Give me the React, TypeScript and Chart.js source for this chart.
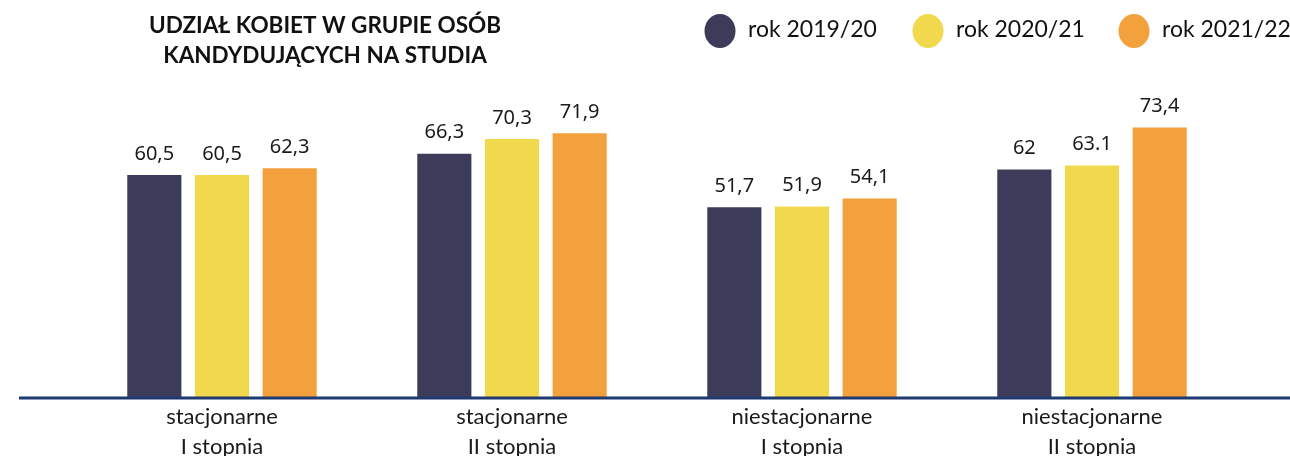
import React, { useEffect, useRef } from "react";
import { Chart, registerables } from "chart.js";

Chart.register(...registerables);

const categories: string[][] = [
  ["stacjonarne", "I stopnia"],
  ["stacjonarne", "II stopnia"],
  ["niestacjonarne", "I stopnia"],
  ["niestacjonarne", "II stopnia"],
];
const seriesNames = ["rok 2019/20", "rok 2020/21", "rok 2021/22"];
const values2019 = [60.5, 66.3, 51.7, 62];
const values2020 = [60.5, 70.3, 51.9, 63.1];
const values2021 = [62.3, 71.9, 54.1, 73.4];
const labels2019 = ["60,5", "66,3", "51,7", "62"];
const labels2020 = ["60,5", "70,3", "51,9", "63.1"];
const labels2021 = ["62,3", "71,9", "54,1", "73,4"];
const colors = ["#3c3c5a", "#f2d84c", "#f3a13d"];
const titleLines = ["UDZIAŁ KOBIET W GRUPIE OSÓB", "KANDYDUJĄCYCH NA STUDIA"];

const valueLabels = [labels2019, labels2020, labels2021];

const overlayPlugin = {
  id: "overlay",
  afterDatasetsDraw(chart: any) {
    const ctx = chart.ctx;
    ctx.save();
    // axis line
    const y0 = chart.scales.y.getPixelForValue(0);
    ctx.strokeStyle = "#1f3a70";
    ctx.lineWidth = 3;
    ctx.beginPath();
    ctx.moveTo(19, y0 + 1);
    ctx.lineTo(1290, y0 + 1);
    ctx.stroke();
    // value labels
    ctx.fillStyle = "#1a1a1a";
    ctx.font = '20px "Noto Sans"';
    ctx.textAlign = "center";
    ctx.textBaseline = "bottom";
    chart.data.datasets.forEach((ds: any, di: number) => {
      const meta = chart.getDatasetMeta(di);
      meta.data.forEach((el: any, i: number) => {
        ctx.fillText(valueLabels[di][i], el.x, el.y - 11);
      });
    });
    // title
    ctx.fillStyle = "#111111";
    ctx.font = 'bold 22.5px Lato';
    ctx.textBaseline = "middle";
    ctx.fillText(titleLines[0], 325, 26);
    ctx.fillText(titleLines[1], 325, 56);
    // legend
    const legendX = [720, 928, 1134];
    ctx.font = '23px Lato';
    ctx.textAlign = "left";
    chart.data.datasets.forEach((ds: any, di: number) => {
      const cx = legendX[di];
      ctx.fillStyle = ds.backgroundColor;
      ctx.beginPath();
      ctx.ellipse(cx, 31, 15.5, 17, 0, 0, Math.PI * 2);
      ctx.fill();
      ctx.fillStyle = "#111111";
      ctx.fillText(ds.label, cx + 28, 30);
    });
    ctx.restore();
  },
};

export default function App() {
  const ref = useRef<HTMLCanvasElement>(null);
  useEffect(() => {
    document.body.style.margin = "0";
    const chart = new Chart(ref.current!, {
      type: "bar",
      data: {
        labels: categories,
        datasets: [
          { label: seriesNames[0], data: values2019, backgroundColor: colors[0] },
          { label: seriesNames[1], data: values2020, backgroundColor: colors[1] },
          { label: seriesNames[2], data: values2021, backgroundColor: colors[2] },
        ],
      },
      options: {
        animation: false,
        responsive: false,
        maintainAspectRatio: false,
        layout: { padding: { left: 77, right: 53, top: 30, bottom: 0 } },
        datasets: { bar: { categoryPercentage: 0.7, barPercentage: 0.8 } },
        plugins: { legend: { display: false }, title: { display: false }, tooltip: { enabled: false } },
        scales: {
          x: {
            grid: { display: false },
            border: { display: false },
            ticks: {
              color: "#1a1a1a",
              font: { family: "Lato", size: 22, lineHeight: "30px" },
              padding: -3,
              maxRotation: 0,
              autoSkip: false,
            },
            afterFit: (s: any) => {
              s.height = 59;
            },
          },
          y: { display: false, min: 0, max: 100 },
        },
      },
      plugins: [overlayPlugin],
    });
    return () => chart.destroy();
  }, []);
  return <canvas ref={ref} width={1290} height={456} style={{ display: "block" }} />;
}
